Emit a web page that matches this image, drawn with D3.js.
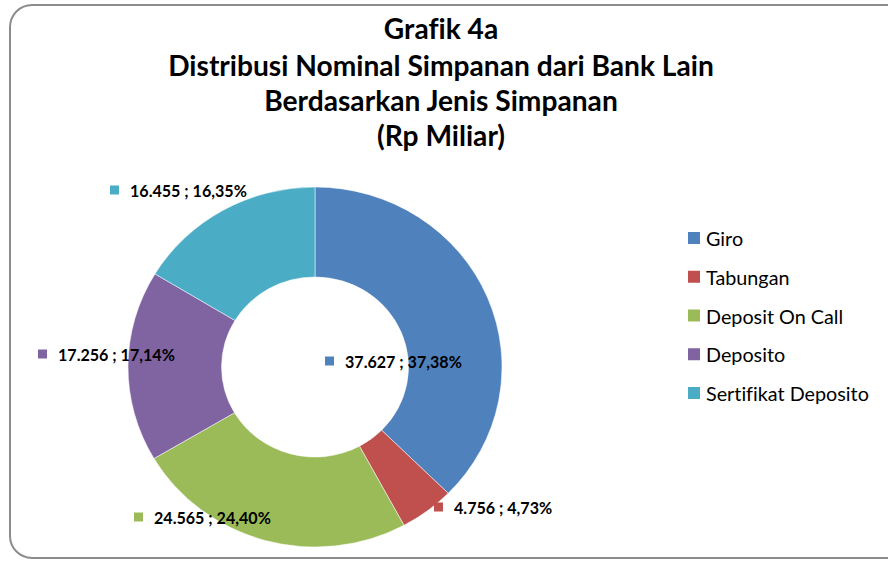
<!DOCTYPE html>
<html><head><meta charset="utf-8">
<script src="https://cdn.jsdelivr.net/npm/d3@7"></script>
<style>html,body{margin:0;padding:0;background:#fff;} text{font-variant-ligatures:none;}</style>
</head><body>
<svg id="c" width="888" height="561"></svg>
<script>
const categories = ["Giro", "Tabungan", "Deposit On Call", "Deposito", "Sertifikat Deposito"];
const values = [37627, 4756, 24565, 17256, 16455];
const valueLabels = ["37.627", "4.756", "24.565", "17.256", "16.455"];
const percentLabels = ["37,38%", "4,73%", "24,40%", "17,14%", "16,35%"];
const colors = ["#4F81BD", "#C0504D", "#9BBB59", "#8064A2", "#4BACC6"];
const titleLines = ["Grafik 4a", "Distribusi Nominal Simpanan dari Bank Lain", "Berdasarkan Jenis Simpanan", "(Rp Miliar)"];

const svg = d3.select("#c");
const FONT = "Lato, 'Open Sans', sans-serif";

function measure(t, size, weight) {
  const tmp = svg.append("text").attr("font-family", FONT).attr("font-weight", weight).attr("font-size", size).text(t);
  const w = tmp.node().getComputedTextLength(); tmp.remove(); return w;
}

// frame
svg.append("rect").attr("x", 10).attr("y", 5).attr("width", 900).attr("height", 553)
  .attr("rx", 22).attr("ry", 22).attr("fill", "#fff").attr("stroke", "#8c8c8c").attr("stroke-width", 2);

// title
const titleY = [28, 65, 100, 135];
const titleSize = 24 * 546 / measure(titleLines[1], 24, "bold");
titleLines.forEach((t, i) => {
  svg.append("text").attr("x", 441).attr("y", titleY[i]).attr("text-anchor", "middle")
    .attr("dominant-baseline", "central")
    .attr("font-family", FONT).attr("font-weight", "bold").attr("font-size", titleSize).attr("fill", "#000").text(t);
});

// donut
const cx = 315, cy = 367, R = 180;
const pie = d3.pie().sort(null).value(d => d)(values);
const arc = d3.arc().innerRadius(R * 0.5).outerRadius(R);
const g = svg.append("g").attr("transform", `translate(${cx},${cy}) scale(${187 / 180},1)`);
g.selectAll("path").data(pie).enter().append("path")
  .attr("d", arc).attr("fill", (d, i) => colors[i]).attr("stroke", "#fff").attr("stroke-width", 0.5);

// data labels
const labelPos = [[325, 361], [434, 507], [134, 517], [38, 354], [110, 190]];
const labSize = 15 * 117 / measure("37.627 ; 37,38%", 15, "bold");
const labG = svg.append("g");
pie.forEach((d, i) => {
  const [x, y] = labelPos[i];
  labG.append("rect").attr("x", x).attr("y", y - 4.5).attr("width", 9).attr("height", 9).attr("fill", colors[i]);
  labG.append("text").attr("x", x + 20).attr("y", y).attr("dominant-baseline", "central")
    .attr("font-family", FONT).attr("font-weight", "bold").attr("font-size", labSize).attr("fill", "#000")
    .text(valueLabels[i] + " ; " + percentLabels[i]);
});

// legend
const legSize = 18 * 163 / measure("Sertifikat Deposito", 18, "normal");
const legY = d3.scalePoint().domain(categories).range([238, 393]);
const leg = svg.append("g");
categories.forEach((c, i) => {
  leg.append("rect").attr("x", 688).attr("y", legY(c) - 6).attr("width", 12).attr("height", 12).attr("fill", colors[i]);
  leg.append("text").attr("x", 706).attr("y", legY(c)).attr("dominant-baseline", "central")
    .attr("font-family", FONT).attr("font-size", legSize).attr("fill", "#000").text(c);
});
</script>
</body></html>
